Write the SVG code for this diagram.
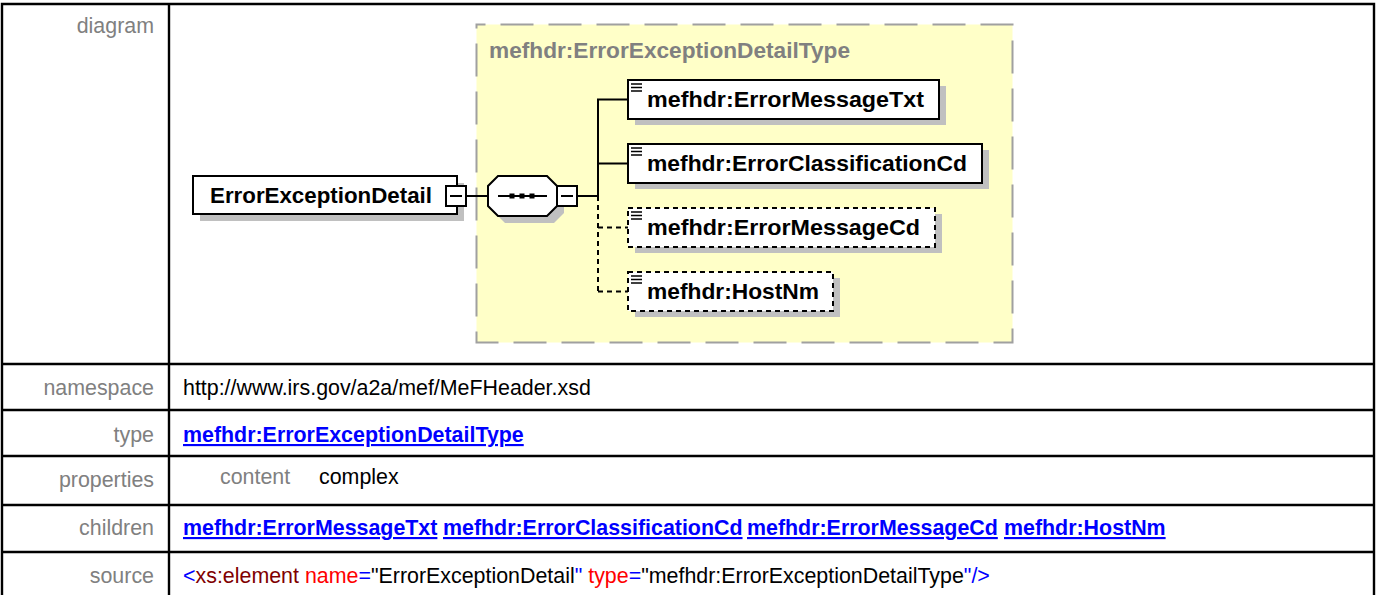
<svg xmlns="http://www.w3.org/2000/svg" width="1382" height="595" viewBox="0 0 1382 595">
<style>
.lbl{font-family:"Liberation Sans",Arial,sans-serif;font-size:21.4px;fill:#808080;text-anchor:end}
.val{font-family:"Liberation Sans",Arial,sans-serif;font-size:21.4px;fill:#000}
.lnk{font-family:"Liberation Sans",Arial,sans-serif;font-size:21.4px;font-weight:bold;fill:#0000FF;text-decoration:underline}
.grid{stroke:#000;stroke-width:2.4;fill:none}
.el{font-family:"Liberation Sans",Arial,sans-serif;font-size:22px;font-weight:bold;fill:#000}
.box{fill:#fff;stroke:#000;stroke-width:2}
.obox{fill:#fff;stroke:#000;stroke-width:2;stroke-dasharray:5 4}
.shd{fill:#C0C0C0}
.con{stroke:#000;stroke-width:2;fill:none}
.dcon{stroke:#000;stroke-width:2;fill:none;stroke-dasharray:5 4}
.ico{stroke:#000;stroke-width:1.3}
</style>
<rect width="1382" height="595" fill="#fff"/>
<g id="table">
<path class="grid" d="M2,600V4H1374V600M169,4V600M2,364H1374M2,410H1374M2,456H1374M2,505H1374M2,552H1374"/>
<text class="lbl" x="154" y="33">diagram</text>
<text class="lbl" x="154" y="395">namespace</text>
<text class="lbl" x="154" y="442">type</text>
<text class="lbl" x="154" y="487">properties</text>
<text class="lbl" x="154" y="535">children</text>
<text class="lbl" x="154" y="583">source</text>
<text class="val" x="183" y="395">http://www.irs.gov/a2a/mef/MeFHeader.xsd</text>
<text class="lnk" x="183" y="442">mefhdr:ErrorExceptionDetailType</text>
<text class="val" x="220" y="484" style="fill:#808080">content</text>
<text class="val" x="319" y="484">complex</text>
<text class="lnk" x="183" y="535">mefhdr:ErrorMessageTxt</text>
<text class="lnk" x="443" y="535">mefhdr:ErrorClassificationCd</text>
<text class="lnk" x="747" y="535">mefhdr:ErrorMessageCd</text>
<text class="lnk" x="1004" y="535">mefhdr:HostNm</text>
<text class="val" x="183" y="583"><tspan fill="#0000FF">&lt;</tspan><tspan fill="#800000">xs:element</tspan> <tspan fill="#FF0000">name</tspan><tspan fill="#0000FF">=</tspan><tspan>"ErrorExceptionDetail</tspan><tspan fill="#0000FF">"</tspan> <tspan fill="#FF0000">type</tspan><tspan fill="#0000FF">=</tspan><tspan>"mefhdr:ErrorExceptionDetailType</tspan><tspan fill="#0000FF">"/&gt;</tspan></text>
</g>
<g id="complexType">
<rect x="476.5" y="24.5" width="536" height="318" fill="#FFFFC8" stroke="#A0A0A0" stroke-width="2" stroke-dasharray="33 15" stroke-dashoffset="24"/>
<text x="489" y="58" style="font-family:'Liberation Sans',Arial,sans-serif;font-size:22px;font-weight:bold;fill:#808080" textLength="361" lengthAdjust="spacingAndGlyphs">mefhdr:ErrorExceptionDetailType</text>
</g>
<g id="connectors">
<path class="con" d="M466,196H488M577,196H598M598,196V99.5H628M598,163.5H628"/>
<path class="dcon" d="M598,196V291.5M598,227.5H628M598,291.5H628"/>
</g>
<g id="root">
<rect class="shd" x="200" y="183" width="264" height="38"/>
<rect class="box" x="193" y="176" width="264" height="38"/>
<text class="el" x="210" y="203" textLength="222" lengthAdjust="spacingAndGlyphs">ErrorExceptionDetail</text>
<rect class="box" x="446" y="186" width="20" height="20"/>
<path class="con" d="M450,196H462"/>
</g>
<g id="sequence">
<polygon class="shd" points="505,183 554,183 564,193 564,213 554,223 505,223 495,213 495,193"/>
<polygon class="box" points="498,176 547,176 557,186 557,206 547,216 498,216 488,206 488,186"/>
<path class="con" d="M498,196H547"/>
<rect x="509.5" y="193.5" width="5" height="5"/>
<rect x="519.5" y="193.5" width="5" height="5"/>
<rect x="529.5" y="193.5" width="5" height="5"/>
<rect class="box" x="557" y="186" width="20" height="20"/>
<path class="con" d="M561,196H573"/>
</g>
<g id="ErrorMessageTxt">
<rect class="shd" x="635" y="86" width="311" height="39"/>
<rect class="box" x="628" y="80" width="311" height="39"/>
<path class="ico" d="M631,84H642M631,87.5H642M631,91H642"/>
<text class="el" x="647" y="107" textLength="277" lengthAdjust="spacingAndGlyphs">mefhdr:ErrorMessageTxt</text>
</g>
<g id="ErrorClassificationCd">
<rect class="shd" x="635" y="150" width="354" height="39"/>
<rect class="box" x="628" y="144" width="354" height="39"/>
<path class="ico" d="M631,148H642M631,151.5H642M631,155H642"/>
<text class="el" x="647" y="171" textLength="320" lengthAdjust="spacingAndGlyphs">mefhdr:ErrorClassificationCd</text>
</g>
<g id="ErrorMessageCd">
<rect class="shd" x="635" y="214" width="307" height="39"/>
<rect class="obox" x="628" y="208" width="307" height="39"/>
<path class="ico" d="M631,212H642M631,215.5H642M631,219H642"/>
<text class="el" x="647" y="235" textLength="273" lengthAdjust="spacingAndGlyphs">mefhdr:ErrorMessageCd</text>
</g>
<g id="HostNm">
<rect class="shd" x="635" y="278" width="205" height="39"/>
<rect class="obox" x="628" y="272" width="205" height="39"/>
<path class="ico" d="M631,276H642M631,279.5H642M631,283H642"/>
<text class="el" x="647" y="299" textLength="172" lengthAdjust="spacingAndGlyphs">mefhdr:HostNm</text>
</g>
</svg>
